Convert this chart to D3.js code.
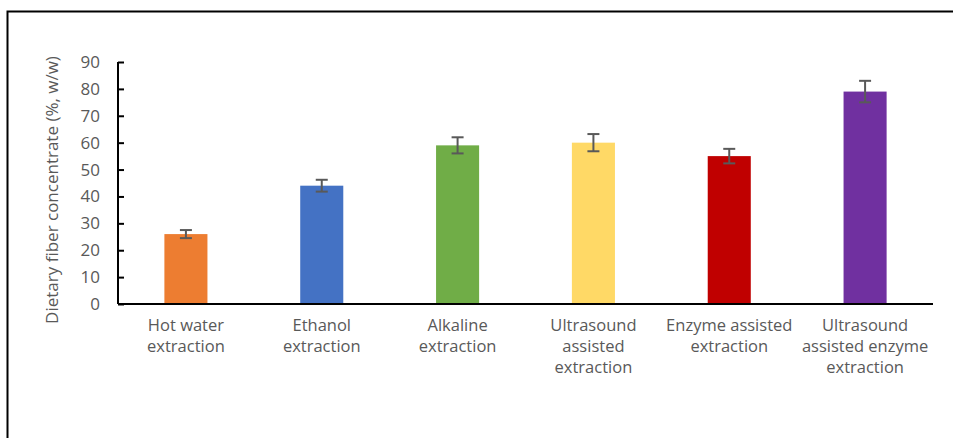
<!DOCTYPE html>
<html>
<head>
<meta charset="utf-8">
<script src="https://cdn.jsdelivr.net/npm/d3@7"></script>
<style>
  body { margin: 0; background: #fff; }
  svg { display: block; }
  .axis text { font-family: "Open Sans", sans-serif; font-size: 16.5px; fill: #595959; }
</style>
</head>
<body>
<svg id="chart" width="953" height="438"></svg>
<script>
const categories = [
  ["Hot water", "extraction"],
  ["Ethanol", "extraction"],
  ["Alkaline", "extraction"],
  ["Ultrasound", "assisted", "extraction"],
  ["Enzyme assisted", "extraction"],
  ["Ultrasound", "assisted enzyme", "extraction"]
];
const values = [26, 44, 59, 60, 55, 79];
const errors = [1.5, 2.2, 3, 3.2, 2.7, 4];
const colors = ["#ED7D31", "#4472C4", "#70AD47", "#FFD966", "#C00000", "#7030A0"];
const yTicks = [0, 10, 20, 30, 40, 50, 60, 70, 80, 90];

const svg = d3.select("#chart");
const margin = { top: 62, left: 118, right: 20, bottom: 134 };
const width = 933 - margin.left;
const height = 304 - margin.top;

// outer frame (only top and left edges fall inside the picture)
svg.append("path")
  .attr("d", "M7.5,460 V11.5 H960")
  .attr("fill", "none")
  .attr("stroke", "#000")
  .attr("stroke-width", 2);

const g = svg.append("g").attr("transform", `translate(${margin.left},${margin.top})`);

const x = d3.scaleBand().domain(d3.range(values.length)).range([0, width]).paddingInner(0.683).paddingOuter(0.3415);
const y = d3.scaleLinear().domain([0, 90]).range([height, 0]);

// bars
g.selectAll(".bar")
  .data(values)
  .enter()
  .append("rect")
  .attr("class", "bar")
  .attr("x", (d, i) => x(i))
  .attr("width", x.bandwidth())
  .attr("y", (d) => y(d))
  .attr("height", (d) => height - y(d))
  .attr("fill", (d, i) => colors[i]);

// error bars
const eb = g.selectAll(".err")
  .data(values)
  .enter()
  .append("g")
  .attr("class", "err")
  .attr("stroke", "#595959")
  .attr("stroke-width", 2);
const cx = (i) => x(i) + x.bandwidth() / 2;
eb.append("line")
  .attr("x1", (d, i) => cx(i)).attr("x2", (d, i) => cx(i))
  .attr("y1", (d, i) => y(d + errors[i])).attr("y2", (d, i) => y(d - errors[i]));
eb.append("line")
  .attr("x1", (d, i) => cx(i) - 6).attr("x2", (d, i) => cx(i) + 6)
  .attr("y1", (d, i) => y(d + errors[i])).attr("y2", (d, i) => y(d + errors[i]));
eb.append("line")
  .attr("x1", (d, i) => cx(i) - 6).attr("x2", (d, i) => cx(i) + 6)
  .attr("y1", (d, i) => y(d - errors[i])).attr("y2", (d, i) => y(d - errors[i]));

// y axis with inside ticks
const yAxis = g.append("g")
  .attr("class", "axis")
  .call(d3.axisLeft(y).tickValues(yTicks).tickSize(-6).tickPadding(18));
yAxis.selectAll("text").style("font-size", "17px");
yAxis.select(".domain").attr("stroke", "#000").attr("stroke-width", 2).attr("d", `M0,0V${height}`);
yAxis.selectAll(".tick line").attr("stroke", "#000").attr("stroke-width", 2);

// x axis
const xAxis = g.append("g")
  .attr("class", "axis")
  .attr("transform", `translate(0,${height})`)
  .call(d3.axisBottom(x).tickSize(0).tickFormat(""));
xAxis.select(".domain").attr("stroke", "#000").attr("stroke-width", 2).attr("d", `M0,0H${width}`);
xAxis.selectAll(".tick").each(function (d) {
  const t = d3.select(this).append("text")
    .attr("text-anchor", "middle")
    .attr("fill", "#595959");
  categories[d].forEach((line, k) => {
    t.append("tspan").attr("x", 0).attr("y", 27 + k * 21).text(line);
  });
});

// y title
svg.append("text")
  .attr("transform", "translate(58,190) rotate(-90)")
  .attr("text-anchor", "middle")
  .attr("font-family", "Open Sans, sans-serif")
  .attr("font-size", 17)
  .attr("fill", "#595959")
  .text("Dietary fiber concentrate (%, w/w)");
</script>
</body>
</html>
